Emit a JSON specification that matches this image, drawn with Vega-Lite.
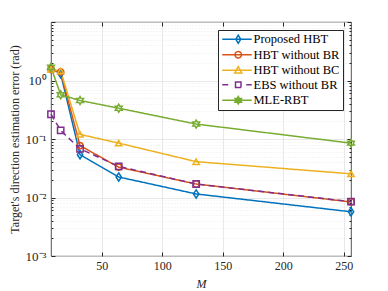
{
  "$schema": "https://vega.github.io/schema/vega-lite/v6.json",
  "width": 300,
  "height": 234,
  "autosize": "none",
  "padding": {"left": 51, "top": 22, "right": 37, "bottom": 35},
  "config": {
    "font": "Liberation Serif",
    "view": {"stroke": "#262626", "strokeWidth": 0.8},
    "axis": {"labelFont": "Liberation Serif", "titleFont": "Liberation Serif", "labelColor": "#262626", "titleColor": "#262626", "labelFontSize": 12, "titleFontSize": 12, "titleFontWeight": "normal", "domainColor": "#262626", "tickColor": "#262626", "gridColor": "#dedede", "gridWidth": 0.7},
    "legend": {"labelFont": "Liberation Serif"}
  },
  "data": {"values": [
    {"series": "Proposed HBT", "M": 8, "err": 1.6},
    {"series": "Proposed HBT", "M": 16, "err": 1.3},
    {"series": "Proposed HBT", "M": 32, "err": 0.054},
    {"series": "Proposed HBT", "M": 64, "err": 0.0224},
    {"series": "Proposed HBT", "M": 128, "err": 0.0115},
    {"series": "Proposed HBT", "M": 256, "err": 0.0057},
    {"series": "HBT without BR", "M": 8, "err": 1.55},
    {"series": "HBT without BR", "M": 16, "err": 1.4},
    {"series": "HBT without BR", "M": 32, "err": 0.077},
    {"series": "HBT without BR", "M": 64, "err": 0.033},
    {"series": "HBT without BR", "M": 128, "err": 0.017},
    {"series": "HBT without BR", "M": 256, "err": 0.0084},
    {"series": "HBT without BC", "M": 8, "err": 1.55},
    {"series": "HBT without BC", "M": 16, "err": 1.45},
    {"series": "HBT without BC", "M": 32, "err": 0.12},
    {"series": "HBT without BC", "M": 64, "err": 0.085},
    {"series": "HBT without BC", "M": 128, "err": 0.041},
    {"series": "HBT without BC", "M": 256, "err": 0.0254},
    {"series": "EBS without BR", "M": 8, "err": 0.265},
    {"series": "EBS without BR", "M": 16, "err": 0.14},
    {"series": "EBS without BR", "M": 32, "err": 0.068},
    {"series": "EBS without BR", "M": 64, "err": 0.034},
    {"series": "EBS without BR", "M": 128, "err": 0.017},
    {"series": "EBS without BR", "M": 256, "err": 0.0085},
    {"series": "MLE-RBT", "M": 8, "err": 1.69},
    {"series": "MLE-RBT", "M": 16, "err": 0.57},
    {"series": "MLE-RBT", "M": 32, "err": 0.455},
    {"series": "MLE-RBT", "M": 64, "err": 0.336},
    {"series": "MLE-RBT", "M": 128, "err": 0.18},
    {"series": "MLE-RBT", "M": 256, "err": 0.085}
  ]},
  "resolve": {"axis": {"x": "independent", "y": "independent"}},
  "layer": [
    {
      "mark": {"type": "line", "strokeWidth": 1.5},
      "encoding": {
        "x": {"field": "M", "type": "quantitative", "scale": {"domain": [8, 256], "nice": false, "zero": false},
          "axis": {"orient": "bottom", "values": [50, 100, 150, 200, 250], "tickSize": -4, "labelPadding": 8, "title": "M", "titleFontStyle": "italic", "titlePadding": 7, "domain": false}},
        "y": {"field": "err", "type": "quantitative", "scale": {"type": "log", "domain": [0.001, 10], "nice": false},
          "axis": {"orient": "left", "values": [0.001,0.002,0.003,0.004,0.005,0.006,0.007,0.008,0.009,0.01,0.02,0.03,0.04,0.05,0.06,0.07,0.08,0.09,0.1,0.2,0.3,0.4,0.5,0.6,0.7,0.8,0.9,1,2,3,4,5,6,7,8,9,10],
            "labelExpr": "datum.value === 1 ? '10⁰' : datum.value === 0.1 ? '10⁻¹' : datum.value === 0.01 ? '10⁻²' : datum.value === 0.001 ? '10⁻³' : ''",
            "tickSize": {"condition": {"test": "indexof([0.001,0.01,0.1,1,10], datum.value) < 0", "value": -2}, "value": -4},
            "gridDash": {"condition": {"test": "indexof([0.001,0.01,0.1,1,10], datum.value) < 0", "value": [1, 2]}, "value": []},
            "gridColor": {"condition": {"test": "indexof([0.001,0.01,0.1,1,10], datum.value) < 0", "value": "#e6e6e6"}, "value": "#dedede"},
            "labelPadding": 9, "labelFontSize": 13, "labelOverlap": false, "domain": false,
            "title": "Target's direction estimation error (rad)", "titlePadding": 4}},
        "color": {"field": "series", "type": "nominal", "sort": null,
          "scale": {"domain": ["Proposed HBT", "HBT without BR", "HBT without BC", "EBS without BR", "MLE-RBT"], "range": ["#0072BD", "#D95319", "#EDB120", "#7E2F8E", "#77AC30"]},
          "legend": {"title": null, "orient": "top-right", "offset": 8, "padding": 3, "strokeColor": "#262626", "fillColor": "white",
            "labelFont": "Liberation Serif", "labelFontSize": 12.5, "labelColor": "#000000", "labelOffset": 20, "symbolSize": 100, "rowPadding": 1.5, "symbolStrokeWidth": 1.5,
            "encode": {"symbols": {"update": {
              "shape": {"signal": "datum.value === 'Proposed HBT' ? 'M-1,0L4.9,0M2.2,-0.8L2.7,0L2.2,0.8L1.7,0Z' : datum.value === 'HBT without BR' ? 'M-1,0L4.9,0M2.85,0A0.65,0.65,0,1,1,1.55,0A0.65,0.65,0,1,1,2.85,0Z' : datum.value === 'HBT without BC' ? 'M-1,0L4.9,0M2.2,-0.75L2.9,0.55L1.5,0.55Z' : datum.value === 'EBS without BR' ? 'M-1,0L0.2,0M3.8,0L4.9,0M1.65,-0.55L2.75,-0.55L2.75,0.55L1.65,0.55Z' : 'M-1,0L4.9,0M2.2,-0.75L2.417,-0.375L2.85,-0.375L2.633,0L2.85,0.375L2.417,0.375L2.2,0.75L1.983,0.375L1.55,0.375L1.767,0L1.55,-0.375L1.983,-0.375Z'"},
              "fill": {"signal": "datum.value === 'MLE-RBT' ? '#77AC30' : 'transparent'"},
              "strokeDash": {"value": [1, 0]},
              "strokeWidth": {"value": 1.5}
            }}}}},
        "strokeDash": {"condition": {"test": "datum.series === 'EBS without BR'", "value": [6, 4]}, "value": [1, 0]}
      }
    },
    {
      "mark": {"type": "point", "filled": false, "strokeWidth": 1.5, "size": 40, "opacity": 1},
      "encoding": {
        "x": {"field": "M", "type": "quantitative", "axis": null},
        "y": {"field": "err", "type": "quantitative", "axis": null},
        "color": {"field": "series", "type": "nominal", "sort": null},
        "shape": {"condition": [
          {"test": "datum.series === 'Proposed HBT'", "value": "M0,-1.3L0.85,0L0,1.3L-0.85,0Z"},
          {"test": "datum.series === 'HBT without BR'", "value": "circle"},
          {"test": "datum.series === 'HBT without BC'", "value": "triangle-up"},
          {"test": "datum.series === 'EBS without BR'", "value": "square"}
        ], "value": "M0,-1.25L0.36,-0.625L1.08,-0.625L0.72,0L1.08,0.625L0.36,0.625L0,1.25L-0.36,0.625L-1.08,0.625L-0.72,0L-1.08,-0.625L-0.36,-0.625Z"}
      }
    },
    {
      "mark": {"type": "point", "opacity": 0},
      "encoding": {
        "x": {"field": "M", "type": "quantitative", "axis": {"orient": "top", "values": [50, 100, 150, 200, 250], "tickSize": -4, "labels": false, "grid": false, "domain": false, "title": null}},
        "y": {"field": "err", "type": "quantitative", "axis": {"orient": "right", "values": [0.001,0.002,0.003,0.004,0.005,0.006,0.007,0.008,0.009,0.01,0.02,0.03,0.04,0.05,0.06,0.07,0.08,0.09,0.1,0.2,0.3,0.4,0.5,0.6,0.7,0.8,0.9,1,2,3,4,5,6,7,8,9,10],
          "tickSize": {"condition": {"test": "indexof([0.001,0.01,0.1,1,10], datum.value) < 0", "value": -2}, "value": -4},
          "labels": false, "grid": false, "domain": false, "title": null}}
      }
    }
  ]
}
